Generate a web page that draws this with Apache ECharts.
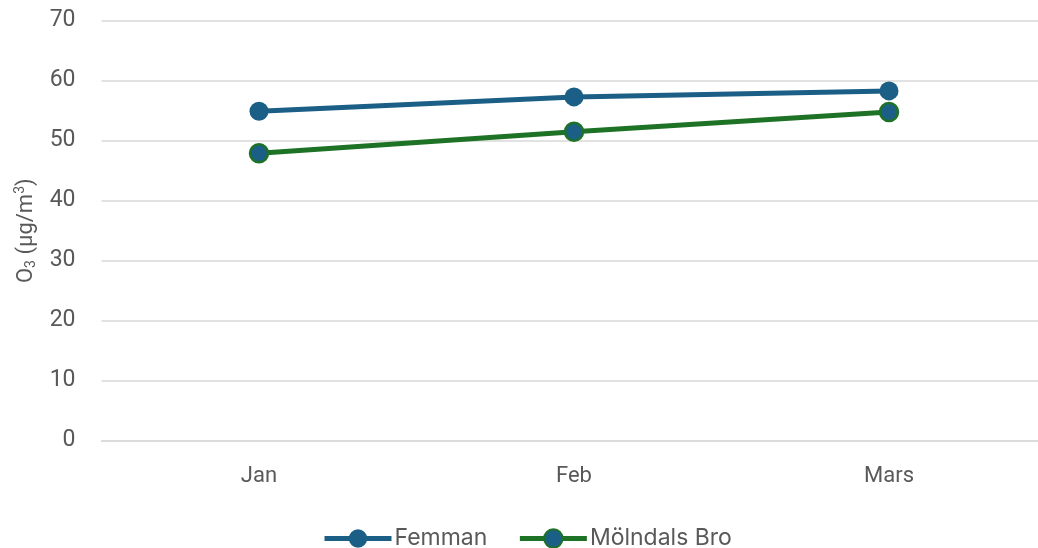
<!DOCTYPE html>
<html><head><meta charset="utf-8">
<script src="https://cdn.jsdelivr.net/npm/echarts@6/dist/echarts.min.js"></script>
<style>html,body{margin:0;padding:0;background:#fff}#c{width:1038px;height:548px}</style>
</head><body><div id="c"></div>
<script>
const categories = ['Jan', 'Feb', 'Mars'];
const femman = [54.9, 57.3, 58.3];
const molndalsBro = [47.9, 51.5, 54.8];
const yTicks = [0, 10, 20, 30, 40, 50, 60, 70];

const blue = '#1b5f86';
const green = '#1e7226';
const txt = '#595959';
const chart = echarts.init(document.getElementById('c'));
chart.setOption({
  backgroundColor: '#fff',
  animation: false,
  grid: { left: 101.5, top: 20.7, width: 945, height: 420, containLabel: false, outerBoundsMode: 'none' },
  legend: {
    top: 522, left: 317,
    itemWidth: 67, itemHeight: 23, itemGap: 30,
    lineStyle: { width: 5 },
    textStyle: { fontFamily: 'Inter', fontSize: 23, color: txt, padding: [0,0,0,-2] },
    data: ['Femman', 'Mölndals Bro']
  },
  xAxis: {
    type: 'category', data: categories,
    axisLine: { lineStyle: { color: '#d9d9d9', width: 1.5 } },
    axisTick: { show: false },
    axisLabel: { margin: 25, fontFamily: 'Roboto', fontSize: 22, color: txt }
  },
  yAxis: {
    type: 'value', min: yTicks[0], max: yTicks[yTicks.length-1], interval: 10,
    name: '{a|O}{sub|3}{a| (µg/m}{sup|3}{a|)}',
    nameLocation: 'middle', nameGap: 62, nameRotate: 90,
    nameTextStyle: {
      color: txt, fontFamily: 'Roboto', fontSize: 22,
      rich: {
        a: { fontSize: 22, color: txt, fontFamily: 'Roboto' },
        sub: { fontSize: 14, color: txt, fontFamily: 'Roboto', verticalAlign: 'bottom', padding: [9,0,0,0] },
        sup: { fontSize: 14, color: txt, fontFamily: 'Roboto', verticalAlign: 'top', padding: [0,0,11,0] }
      }
    },
    axisLine: { show: false }, axisTick: { show: false },
    splitLine: { lineStyle: { color: '#d9d9d9', width: 1.5 } },
    axisLabel: { margin: 26, fontFamily: 'Roboto', fontSize: 23, color: txt }
  },
  series: [
    { name: 'Femman', type: 'line', data: femman, symbol: 'circle', symbolSize: 19,
      lineStyle: { color: blue, width: 5 }, itemStyle: { color: blue, borderColor: blue, borderWidth: 0 } },
    { name: 'Mölndals Bro', type: 'line', data: molndalsBro, symbol: 'circle', symbolSize: 18,
      lineStyle: { color: green, width: 5 }, itemStyle: { color: blue, borderColor: green, borderWidth: 2.5 } }
  ]
});
</script></body></html>
